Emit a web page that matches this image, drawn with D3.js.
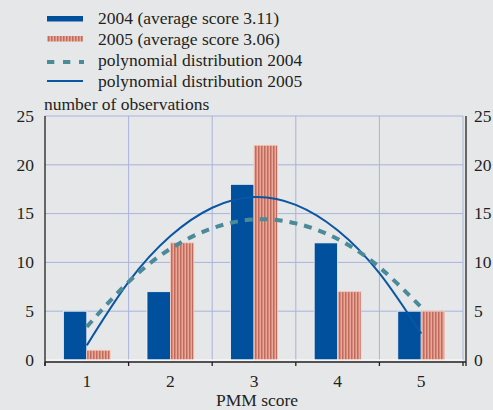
<!DOCTYPE html>
<html><head><meta charset="utf-8">
<script src="https://cdn.jsdelivr.net/npm/d3@7"></script>
<style>
html,body{margin:0;padding:0;background:#e6e7e9;}
svg{display:block;}
text{font-family:"Liberation Serif","Times New Roman",serif;fill:#231f20;}
</style></head>
<body>
<script>
const categories = ["1","2","3","4","5"];
const values2004 = [5, 7, 18, 12, 5];
const values2005 = [1, 12, 22, 7, 5];
// polynomial trend curves, read at half-step positions
const curveX = [1, 1.5, 2, 2.5, 3, 3.5, 4, 4.5, 5];
const poly2004 = [3.4, 8.0, 11.4, 13.5, 14.4, 14.0, 12.4, 9.5, 5.4];
const poly2005 = [1.5, 8.0, 12.7, 15.6, 16.7, 15.9, 13.3, 8.9, 2.7];
const yTicks = [0, 5, 10, 15, 20, 25];
const legendLabels = ["2004 (average score 3.11)", "2005 (average score 3.06)", "polynomial distribution 2004", "polynomial distribution 2005"];

const W = 493, H = 410, FS = 17.5;
const svg = d3.select("body").append("svg").attr("width", W).attr("height", H);
const defs = svg.append("defs");
const pat = defs.append("pattern").attr("id","stripes").attr("patternUnits","userSpaceOnUse")
  .attr("width",3).attr("height",10);
pat.append("rect").attr("width",3).attr("height",10).attr("fill","#e9a999");
pat.append("rect").attr("width",1.5).attr("height",10).attr("fill","#c26a5c");

const pLeft = 45, pRight = 463, pTop = 116, pBottom = 360;
const x = d3.scaleBand().domain(categories).range([pLeft, pRight]).padding(0);
const xs = d3.scaleBand().domain(["2004","2005"]).range([x.bandwidth()*0.22, x.bandwidth()*0.78]).padding(0);
const xl = d3.scaleLinear().domain([0.5, 5.5]).range([pLeft, pRight]);
const y = d3.scaleLinear().domain([0, 25]).range([pBottom, pTop]);

const gridColor = "#a9b3dc";
svg.append("g").selectAll("line").data(yTicks.filter(d=>d>0)).join("line")
  .attr("x1", pLeft).attr("x2", pRight).attr("y1", d=>y(d)).attr("y2", d=>y(d))
  .attr("stroke", gridColor).attr("stroke-width", 1);
svg.append("g").selectAll("line").data(categories.slice(1).concat(["end"])).join("line")
  .attr("x1", d=> d==="end" ? pRight : x(d)).attr("x2", d=> d==="end" ? pRight : x(d))
  .attr("y1", pTop).attr("y2", pBottom)
  .attr("stroke", gridColor).attr("stroke-width", 1);

const g = svg.append("g");
g.selectAll("rect.b04").data(values2004).join("rect").attr("class","b04")
  .attr("x", (d,i)=>x(categories[i]) + xs("2004")).attr("width", xs.bandwidth())
  .attr("y", d=>y(d)).attr("height", d=>y(0)-y(d))
  .attr("fill", "#00509d").attr("stroke","#f4f4f4").attr("stroke-width",0.8);
g.selectAll("rect.b05").data(values2005).join("rect").attr("class","b05")
  .attr("x", (d,i)=>x(categories[i]) + xs("2005")).attr("width", xs.bandwidth())
  .attr("y", d=>y(d)).attr("height", d=>y(0)-y(d))
  .attr("fill", "url(#stripes)").attr("stroke","#f2c9bd").attr("stroke-width",0.8);

svg.append("line").attr("x1", pLeft).attr("x2", pRight).attr("y1", y(0)).attr("y2", y(0))
  .attr("stroke", "#ffffff").attr("stroke-width", 1.2);

const line = d3.line().x((d,i)=>xl(curveX[i])).y(d=>y(d)).curve(d3.curveNatural);
svg.append("path").datum(poly2005).attr("d", line).attr("fill","none")
  .attr("stroke","#0a56a3").attr("stroke-width",2);
svg.append("path").datum(poly2004).attr("d", line).attr("fill","none")
  .attr("stroke","#4b8a98").attr("stroke-width",4).attr("stroke-dasharray","8,7");

const axisY = pBottom + 2;
svg.append("line").attr("x1", pLeft).attr("x2", pRight + 3).attr("y1", axisY).attr("y2", axisY)
  .attr("stroke","#231f20").attr("stroke-width",1.3);
svg.append("g").selectAll("line").data(categories.concat(["end"])).join("line")
  .attr("x1", d=> d==="end" ? pRight : x(d)).attr("x2", d=> d==="end" ? pRight : x(d))
  .attr("y1", axisY).attr("y2", axisY + 4).attr("stroke","#231f20").attr("stroke-width",1.3);
svg.append("line").attr("x1", pLeft).attr("x2", pLeft).attr("y1", pTop).attr("y2", axisY + 4)
  .attr("stroke","#231f20").attr("stroke-width",1.3);
svg.append("line").attr("x1", pRight + 3).attr("x2", pRight + 3).attr("y1", pTop).attr("y2", axisY + 4)
  .attr("stroke","#231f20").attr("stroke-width",1.3);

svg.append("g").selectAll("text").data(yTicks).join("text")
  .attr("x", 34).attr("y", d=>y(d)).attr("dy","0.33em").attr("text-anchor","end")
  .attr("font-size",FS).text(d=>d);
svg.append("g").selectAll("text").data(yTicks).join("text")
  .attr("x", 474).attr("y", d=>y(d)).attr("dy","0.33em").attr("text-anchor","start")
  .attr("font-size",FS).text(d=>d);
svg.append("g").selectAll("text").data(categories).join("text")
  .attr("x", d=>x(d) + x.bandwidth()/2).attr("y", 386.5).attr("text-anchor","middle")
  .attr("font-size",FS).text(d=>d);
svg.append("text").attr("x", 257).attr("y", 405.5).attr("text-anchor","middle")
  .attr("font-size",FS).text("PMM score");
svg.append("text").attr("x", 44).attr("y", 110).attr("font-size",FS).text("number of observations");

const lg = svg.append("g");
const rows = [18, 39, 60, 81];
lg.append("rect").attr("x",47).attr("y",16).attr("width",36).attr("height",5.5).attr("fill","#00509d");
lg.append("rect").attr("x",47).attr("y",36).attr("width",36).attr("height",5.5).attr("fill","url(#stripes)");
lg.append("line").attr("x1",47).attr("x2",84).attr("y1",62).attr("y2",62)
  .attr("stroke","#4b8a98").attr("stroke-width",4).attr("stroke-dasharray","7.3,8.7");
lg.append("line").attr("x1",47).attr("x2",83).attr("y1",81).attr("y2",81)
  .attr("stroke","#0a56a3").attr("stroke-width",2.2);
lg.selectAll("text").data(legendLabels).join("text")
  .attr("x",98).attr("y",(d,i)=>rows[i]).attr("dy","0.33em").attr("font-size",FS).text(d=>d);
</script>
</body></html>
